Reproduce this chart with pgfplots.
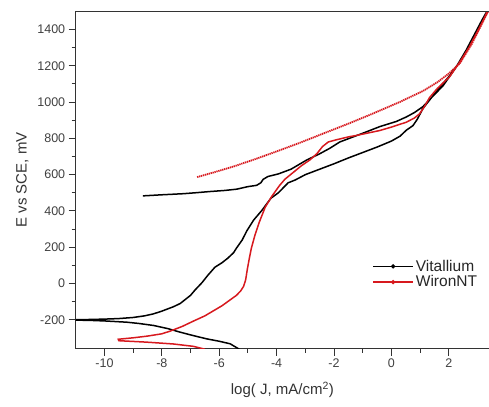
\documentclass[border=0pt]{standalone}
\usepackage{pgfplots}
\pgfplotsset{compat=1.18}
\usepackage{fontspec}
\setmainfont{Liberation Sans}
\definecolor{wred}{RGB}{215,25,30}
\begin{document}
\begin{tikzpicture}
\begin{axis}[
  scale only axis, width=413pt, height=337pt,
  xmin=-11, xmax=3.4, ymin=-358, ymax=1500,
  axis lines=left, axis line style={-, line width=0.9pt, black!80},
  xtick={-10,-8,...,2}, minor x tick num=1,
  ytick={-200,0,...,1400}, minor y tick num=1,
  tick align=outside, major tick length=7pt, minor tick length=4pt,
  tick style={line width=0.9pt, black!80},
  /pgf/number format/assume math mode=true,
  /pgf/number format/1000 sep={},
  ticklabel style={font=\fontsize{12.5}{14}\selectfont, text=black!75},
  xlabel={log( J, mA/cm\textsuperscript{2})},
  ylabel={E vs SCE, mV},
  xlabel style={yshift=-7pt},
  ylabel style={yshift=2pt},
  label style={font=\fontsize{15}{17}\selectfont, text=black!80},
  legend style={draw=none, fill=none, at={(0.71,0.275)}, anchor=north west,
    font=\fontsize{15.5}{17}\selectfont, row sep=-1pt, text=black!85},
  legend cell align=left,
  legend image code/.code={\draw[#1] (0pt,0pt) -- (40pt,0pt); \fill[#1] (20pt,0pt) circle (1.3pt);},
  clip=true,
]
\addplot[black, line width=1.5pt] coordinates {
(-5.30,-362) (-5.62,-332) (-6.0,-318) (-6.43,-305) (-6.9,-287) (-7.36,-268) (-7.8,-248) (-8.29,-231) (-8.8,-220) (-9.22,-213) (-10,-206) (-10.5,-203) (-11.2,-201)
(-11.2,-200) (-10.5,-198) (-10,-196) (-9.5,-193) (-9.0,-187) (-8.6,-178) (-8.29,-167) (-8.0,-152) (-7.6,-128) (-7.36,-110) (-7.0,-65) (-6.84,-35) (-6.6,5) (-6.4,45) (-6.15,90) (-5.9,115) (-5.7,140) (-5.5,170) (-5.4,195) (-5.2,240) (-5.04,290) (-4.8,350) (-4.52,402) (-4.2,470) (-3.94,500) (-3.6,555) (-3.36,570) (-3.0,600) (-2.5,630) (-2.0,660) (-1.5,692) (-1.0,722) (-0.5,752) (0,785) (0.3,812) (0.52,845) (0.75,870) (0.9,905) (1.1,965) (1.3,1005) (1.6,1065) (2.0,1140) (2.3,1205) (2.6,1285) (2.9,1375) (3.15,1450) (3.4,1520)
(3.4,1515) (3.1,1430) (2.8,1340) (2.5,1255) (2.2,1180) (1.8,1090) (1.4,1025) (1.1,975) (0.8,942) (0.52,918) (0.17,893) (-0.4,865) (-0.87,836) (-1.3,810) (-1.8,780) (-2.15,745) (-2.5,715) (-2.96,680) (-3.5,630) (-3.94,604) (-4.3,590) (-4.47,574) (-4.55,555) (-4.7,541) (-5.0,534) (-5.39,520) (-5.8,513) (-6.32,507) (-6.84,500) (-7.25,495) (-8.0,489) (-8.66,483)
};
\addlegendentry{Vitallium}
\addplot[wred, line width=1.5pt] coordinates {
(-6.5,-362) (-6.9,-346) (-7.6,-333) (-8.52,-323) (-9.0,-319) (-9.5,-315)
(-9.52,-307) (-9.0,-299) (-8.52,-290) (-8.0,-277) (-7.71,-262) (-7.3,-237) (-6.9,-207) (-6.5,-178) (-6.2,-150) (-5.9,-122) (-5.62,-90) (-5.4,-65) (-5.25,-40) (-5.15,-15) (-5.08,20) (-5.02,80) (-4.95,140) (-4.88,195) (-4.75,270) (-4.6,340) (-4.4,420) (-4.17,480) (-3.9,540) (-3.71,575) (-3.4,615) (-3.13,650) (-2.85,680) (-2.6,715) (-2.4,755) (-2.2,780) (-1.92,792) (-1.5,808) (-1.22,816) (-0.8,830) (-0.41,843) (0,862) (0.52,889) (0.8,912) (0.98,935) (1.15,975) (1.33,1025) (1.6,1075) (2.03,1140) (2.4,1225) (2.7,1300) (3.0,1390) (3.2,1450) (3.4,1520)
};
\addlegendentry{WironNT}
\addplot[wred, line width=1.8pt, dash pattern=on 1.3pt off 0.7pt, forget plot] coordinates {
(3.4,1510) (3.1,1415) (2.8,1320) (2.38,1212) (2.0,1157) (1.6,1109) (1.1,1061) (0.3,1001) (-0.64,937) (-1.45,884) (-2.4,825) (-3.2,775) (-4.0,728) (-4.7,688) (-5.5,645) (-6.2,612) (-6.78,586)
};
\draw[line width=0.9pt, black!80] (rel axis cs:0,1) -- (rel axis cs:1,1);
\coordinate (BL) at (rel axis cs:0,0);
\coordinate (TR) at (rel axis cs:1,1);
\end{axis}
\pgfresetboundingbox
\path ([xshift=-75.7pt,yshift=-57.7pt]BL) rectangle ([yshift=11.3pt]TR);
\end{tikzpicture}
\end{document}
